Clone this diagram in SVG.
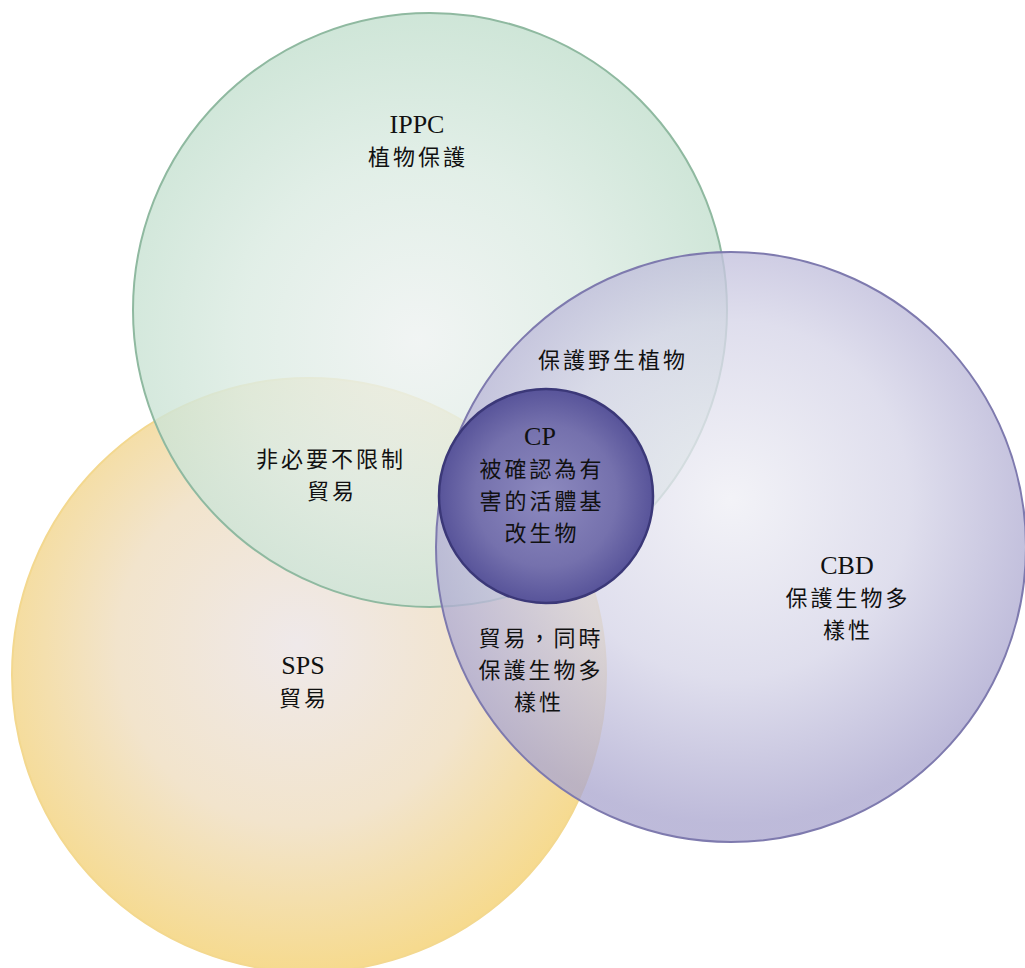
<svg xmlns="http://www.w3.org/2000/svg" width="1025" height="968" viewBox="0 0 1025 968">
<defs>
<radialGradient id="gYellow" cx="0.48" cy="0.45" r="0.55">
<stop offset="0" stop-color="#efe9ea"/>
<stop offset="0.55" stop-color="#f2e4cc"/>
<stop offset="1" stop-color="#f6da8e"/>
</radialGradient>
<radialGradient id="gGreen" cx="0.48" cy="0.55" r="0.55">
<stop offset="0" stop-color="#eef2f1"/>
<stop offset="0.55" stop-color="#dbebe2"/>
<stop offset="1" stop-color="#c4e0cf"/>
</radialGradient>
<radialGradient id="gPurple" cx="0.5" cy="0.42" r="0.55">
<stop offset="0" stop-color="#efeff5"/>
<stop offset="0.55" stop-color="#d6d5e8"/>
<stop offset="1" stop-color="#aba7cf"/>
</radialGradient>
<radialGradient id="gCP" cx="0.5" cy="0.5" r="0.55">
<stop offset="0" stop-color="#8d8abf"/>
<stop offset="0.6" stop-color="#7571ad"/>
<stop offset="1" stop-color="#4f4b94"/>
</radialGradient>
<style>
.t{font-family:"Liberation Serif","Noto Serif CJK TC","Noto Sans CJK TC",serif;font-size:26px;fill:#111;text-anchor:middle}
.c{font-family:"Noto Sans CJK TC","Noto Sans CJK SC",sans-serif;font-size:22px;letter-spacing:3px;fill:#111;text-anchor:middle}
</style>
</defs>
<rect width="1025" height="968" fill="#ffffff"/>
<g id="SPS">
<circle cx="309" cy="675" r="297" fill="url(#gYellow)" stroke="#f3d88f" stroke-width="2"/>
</g>
<g id="IPPC">
<circle cx="430" cy="310" r="297" fill="url(#gGreen)" fill-opacity="0.82" stroke="#8fb9a0" stroke-width="2"/>
</g>
<g id="CBD">
<circle cx="731" cy="547" r="295" fill="url(#gPurple)" fill-opacity="0.78" stroke="#7e7aae" stroke-width="2"/>
</g>
<g id="CP">
<circle cx="546" cy="496" r="107" fill="url(#gCP)" stroke="#3b3878" stroke-width="2.5"/>
</g>
<g id="connectors"></g>
<g id="labels">
<text class="t" x="417" y="133">IPPC</text>
<text class="c" x="418" y="165">植物保護</text>
<text class="c" x="613" y="368">保護野生植物</text>
<text class="c" x="331" y="467">非必要不限制</text>
<text class="c" x="332" y="499">貿易</text>
<text class="t" x="540" y="445">CP</text>
<text class="c" x="542" y="477">被確認為有</text>
<text class="c" x="542" y="509">害的活體基</text>
<text class="c" x="542" y="541">改生物</text>
<text class="t" x="847" y="574">CBD</text>
<text class="c" x="848" y="606">保護生物多</text>
<text class="c" x="848" y="638">樣性</text>
<text class="c" x="541" y="646">貿易，同時</text>
<text class="c" x="541" y="678">保護生物多</text>
<text class="c" x="539" y="710">樣性</text>
<text class="t" x="303" y="674">SPS</text>
<text class="c" x="304" y="706">貿易</text>
</g>
</svg>
